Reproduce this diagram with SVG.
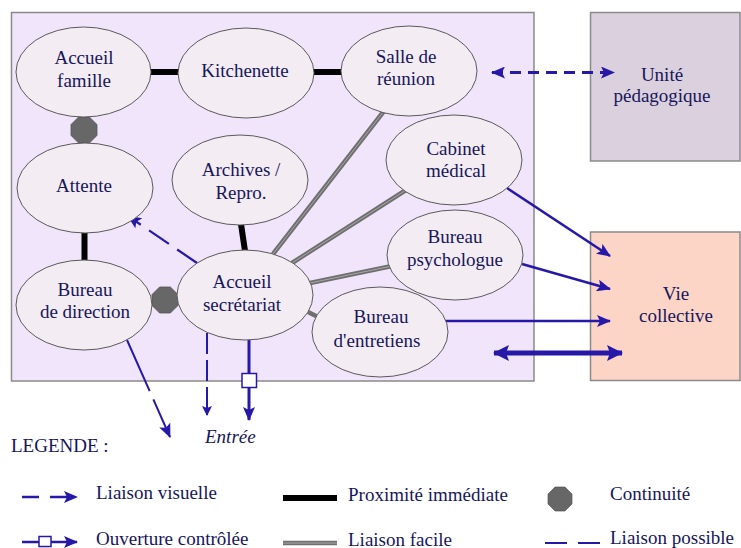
<svg xmlns="http://www.w3.org/2000/svg" width="741" height="548" viewBox="0 0 741 548">
  <style>
    text { font-family: "Liberation Serif", Tinos, "Times New Roman", "Noto Serif", "DejaVu Serif", serif; font-size: 19px; fill: #17165c; }
    .c { text-anchor: middle; }
    .room { fill: #f3ecf2; stroke: #5a5a5a; stroke-width: 1; }
    .zone { stroke: #8a8a8a; stroke-width: 1.5; }
    .prox { stroke: #000; stroke-width: 6; fill: none; }
    .easy { stroke: #6f6f6f; stroke-width: 4.5; fill: none; }
    .easy-in { stroke: #a8a8a8; stroke-width: 1; fill: none; }
    .blue { stroke: #2619a8; fill: none; }
    .cont { fill: #676767; stroke: #555; stroke-width: 0.8; }
  </style>
  <defs>
    <marker id="ah" markerUnits="userSpaceOnUse" viewBox="0 0 14 12" markerWidth="14" markerHeight="12" refX="13" refY="6" orient="auto-start-reverse">
      <path d="M0,0 L14,6 L0,12 L3,6 z" fill="#2619a8"/>
    </marker>
    <marker id="ahs" markerUnits="userSpaceOnUse" viewBox="0 0 10 10" markerWidth="10" markerHeight="10" refX="9" refY="5" orient="auto-start-reverse">
      <path d="M0,0 L10,5 L0,10 L2,5 z" fill="#2619a8"/>
    </marker>
    <marker id="ahb" markerUnits="userSpaceOnUse" viewBox="0 0 16 16" markerWidth="16" markerHeight="16" refX="15" refY="8" orient="auto-start-reverse">
      <path d="M0,0 L16,8 L0,16 L3,8 z" fill="#2619a8"/>
    </marker>
    <polygon id="oct" points="5.4,-13 -5.4,-13 -13,-5.4 -13,5.4 -5.4,13 5.4,13 13,5.4 13,-5.4"/>
  </defs>

  <!-- zones -->
  <g id="zone-service">
    <rect class="zone" x="11.5" y="12.5" width="522.5" height="368.5" fill="#f1e5fc"/>
  </g>
  <g id="unite-pedagogique">
    <rect class="zone" x="590.5" y="12.5" width="149.5" height="148.5" fill="#dbd0dd"/>
    <text class="c" x="662" y="81">Unité</text>
    <text class="c" x="662" y="102">pédagogique</text>
  </g>
  <g id="vie-collective">
    <rect class="zone" x="590.5" y="232" width="149.5" height="148.5" fill="#fcd5c7"/>
    <text class="c" x="676" y="300">Vie</text>
    <text class="c" x="676" y="322">collective</text>
  </g>

  <!-- connectors -->
  <g id="connectors">
    <!-- proximité immédiate -->
    <line class="prox" x1="150" y1="72" x2="179" y2="72"/>
    <line class="prox" x1="313" y1="72" x2="342" y2="72"/>
    <line class="prox" x1="84.5" y1="232" x2="84.5" y2="261"/>
    <line class="prox" x1="241" y1="224" x2="245" y2="251"/>
    <!-- liaison facile -->
    <line class="easy" x1="273" y1="254" x2="384" y2="111"/>
    <line class="easy" x1="292" y1="263" x2="406" y2="190"/>
    <line class="easy" x1="310" y1="283" x2="392" y2="266"/>
    <line class="easy" x1="308" y1="312" x2="318" y2="317"/>
    <line class="easy-in" x1="273" y1="254" x2="384" y2="111"/>
    <line class="easy-in" x1="292" y1="263" x2="406" y2="190"/>
    <line class="easy-in" x1="310" y1="283" x2="392" y2="266"/>
    <!-- liaisons visuelles -->
    <line class="blue" stroke-width="3" stroke-dasharray="11 7" x1="492" y1="72.5" x2="614" y2="72.5" marker-start="url(#ah)" marker-end="url(#ah)"/>
    <line class="blue" stroke-width="2.2" stroke-dasharray="24 10" x1="197" y1="263" x2="128" y2="216" marker-end="url(#ah)"/>
    <line class="blue" stroke-width="2" stroke-dasharray="56 9" x1="127" y1="340" x2="170" y2="437" marker-end="url(#ah)"/>
    <line class="blue" stroke-width="2" stroke-dasharray="21 6" x1="207" y1="333" x2="207" y2="415" marker-end="url(#ahs)"/>
    <!-- liaisons vers la vie collective -->
    <line class="blue" stroke-width="2.5" x1="507" y1="188" x2="610" y2="256" marker-end="url(#ah)"/>
    <line class="blue" stroke-width="2.5" x1="522" y1="264" x2="610" y2="289" marker-end="url(#ah)"/>
    <line class="blue" stroke-width="2.5" x1="443" y1="321" x2="610" y2="321" marker-end="url(#ah)"/>
    <line class="blue" stroke-width="5" x1="494" y1="353" x2="622" y2="353" marker-start="url(#ahb)" marker-end="url(#ahb)"/>
    <!-- ouverture contrôlée -->
    <line class="blue" stroke-width="3" x1="249" y1="420" x2="249" y2="321" marker-start="url(#ah)" marker-end="url(#ah)"/>
    <rect x="242" y="373.5" width="14.5" height="14" fill="#fff" stroke="#2619a8" stroke-width="1.5"/>
  </g>

  <!-- continuités -->
  <use href="#oct" class="cont" transform="translate(84,130)"/>
  <use href="#oct" class="cont" transform="translate(165,300)"/>

  <!-- rooms -->
  <g id="accueil-famille">
    <ellipse class="room" cx="83.5" cy="72" rx="67.5" ry="45"/>
    <text class="c" x="84" y="64">Accueil</text>
    <text class="c" x="84" y="87">famille</text>
  </g>
  <g id="kitchenette">
    <ellipse class="room" cx="246" cy="73" rx="68" ry="45"/>
    <text class="c" x="245" y="77">Kitchenette</text>
  </g>
  <g id="salle-reunion">
    <ellipse class="room" cx="409" cy="71" rx="68" ry="45"/>
    <text class="c" x="406" y="63">Salle de</text>
    <text class="c" x="406" y="85">réunion</text>
  </g>
  <g id="cabinet-medical">
    <ellipse class="room" cx="454" cy="160" rx="68" ry="45"/>
    <text class="c" x="456" y="155">Cabinet</text>
    <text class="c" x="456" y="177">médical</text>
  </g>
  <g id="attente">
    <ellipse class="room" cx="85" cy="188" rx="68" ry="45"/>
    <text class="c" x="84" y="192">Attente</text>
  </g>
  <g id="archives">
    <ellipse class="room" cx="240" cy="180" rx="68" ry="45"/>
    <text class="c" x="241" y="176">Archives /</text>
    <text class="c" x="241" y="199">Repro.</text>
  </g>
  <g id="accueil-secretariat">
    <ellipse class="room" cx="245" cy="295" rx="68" ry="45"/>
    <text class="c" x="242" y="288">Accueil</text>
    <text class="c" x="242" y="311">secrétariat</text>
  </g>
  <g id="bureau-direction">
    <ellipse class="room" cx="84" cy="305" rx="68" ry="45"/>
    <text class="c" x="85" y="296">Bureau</text>
    <text class="c" x="85" y="318">de direction</text>
  </g>
  <g id="bureau-psychologue">
    <ellipse class="room" cx="455" cy="255" rx="68" ry="45"/>
    <text class="c" x="455" y="243">Bureau</text>
    <text class="c" x="455" y="266">psychologue</text>
  </g>
  <g id="bureau-entretiens">
    <ellipse class="room" cx="380" cy="332" rx="68" ry="45"/>
    <text class="c" x="381" y="323">Bureau</text>
    <text class="c" x="377" y="347">d'entretiens</text>
  </g>

  <g id="entree">
    <text x="205" y="443" font-style="italic">Entrée</text>
  </g>

  <!-- légende -->
  <g id="legende">
    <text x="11" y="452">LEGENDE :</text>

    <line class="blue" stroke-width="2.5" stroke-dasharray="17 11" x1="22" y1="497" x2="77" y2="497" marker-end="url(#ah)"/>
    <text x="96" y="499">Liaison visuelle</text>

    <line class="blue" stroke-width="2.5" x1="22" y1="542" x2="77" y2="542" marker-end="url(#ah)"/>
    <rect x="39" y="536.5" width="12" height="10" fill="#fff" stroke="#2619a8" stroke-width="1.5"/>
    <text x="96" y="545">Ouverture contrôlée</text>

    <line class="prox" stroke-width="5" x1="283" y1="498" x2="337" y2="498"/>
    <text x="348" y="501">Proximité immédiate</text>

    <line class="easy" x1="283" y1="543" x2="337" y2="543"/>
    <line class="easy-in" x1="283" y1="543" x2="337" y2="543"/>
    <text x="348" y="546">Liaison facile</text>

    <use href="#oct" class="cont" transform="translate(560,499) scale(0.92)"/>
    <text x="610" y="500">Continuité</text>

    <line class="blue" stroke-width="2" stroke-dasharray="22 11" x1="545" y1="543" x2="600" y2="543"/>
    <text x="610" y="544">Liaison possible</text>
  </g>
</svg>
